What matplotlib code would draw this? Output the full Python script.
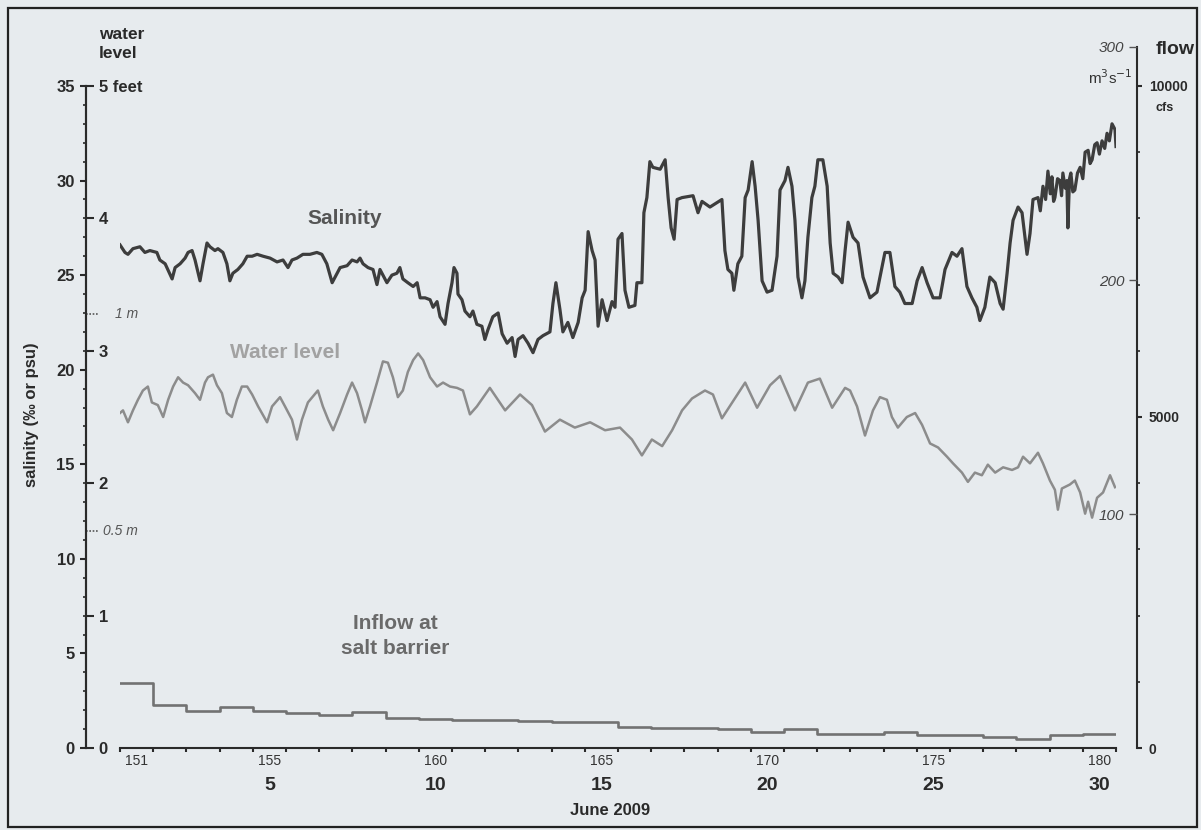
import matplotlib.pyplot as plt
from matplotlib.patches import Rectangle
from matplotlib.transforms import blended_transform_factory

plt.rcParams['font.family'] = ['Liberation Sans', 'DejaVu Sans']

## Salinity (psu): (day of year 2009, psu)
salinity_obs = [
    (151.00, 26.6), (151.15, 26.2), (151.24, 26.1), (151.39, 26.4), (151.60, 26.5), (151.75, 26.2),
    (151.90, 26.3), (152.11, 26.2), (152.20, 25.8), (152.36, 25.6), (152.57, 24.8), (152.66, 25.4),
    (152.81, 25.6), (152.96, 25.9), (153.05, 26.2), (153.17, 26.3), (153.26, 25.8), (153.41, 24.7),
    (153.50, 25.6), (153.62, 26.7), (153.71, 26.5), (153.86, 26.3), (153.95, 26.4), (154.10, 26.2),
    (154.22, 25.6), (154.31, 24.7), (154.40, 25.1), (154.55, 25.3), (154.70, 25.6), (154.83, 26.0),
    (154.98, 26.0), (155.13, 26.1), (155.31, 26.0), (155.52, 25.9), (155.73, 25.7), (155.91, 25.8),
    (156.06, 25.4), (156.18, 25.8), (156.33, 25.9), (156.51, 26.1), (156.72, 26.1), (156.93, 26.2),
    (157.08, 26.1), (157.23, 25.6), (157.39, 24.6), (157.54, 25.1), (157.63, 25.4), (157.84, 25.5),
    (157.99, 25.8), (158.14, 25.7), (158.23, 25.9), (158.32, 25.6), (158.47, 25.4), (158.62, 25.3),
    (158.74, 24.5), (158.83, 25.3), (158.92, 25.0), (159.04, 24.6), (159.19, 25.0), (159.34, 25.1),
    (159.43, 25.4), (159.52, 24.8), (159.67, 24.6), (159.83, 24.4), (159.95, 24.6), (160.04, 23.8),
    (160.19, 23.8), (160.34, 23.7), (160.43, 23.3), (160.55, 23.6), (160.64, 22.8), (160.79, 22.4),
    (160.88, 23.5), (161.00, 24.6), (161.06, 25.4), (161.15, 25.1), (161.18, 24.0), (161.30, 23.7),
    (161.39, 23.1), (161.54, 22.8), (161.63, 23.1), (161.75, 22.4), (161.90, 22.3), (161.99, 21.6),
    (162.08, 22.1), (162.23, 22.8), (162.39, 23.0), (162.51, 21.9), (162.66, 21.4), (162.81, 21.7),
    (162.90, 20.7), (162.99, 21.6), (163.14, 21.8), (163.29, 21.4), (163.44, 20.9), (163.59, 21.6),
    (163.74, 21.8), (163.95, 22.0), (164.04, 23.5), (164.13, 24.6), (164.25, 23.2), (164.34, 22.0),
    (164.49, 22.5), (164.64, 21.7), (164.80, 22.5), (164.92, 23.8), (165.01, 24.2), (165.10, 27.3),
    (165.22, 26.3), (165.31, 25.8), (165.40, 22.3), (165.52, 23.7), (165.67, 22.6), (165.82, 23.6),
    (165.91, 23.3), (166.00, 26.9), (166.12, 27.2), (166.21, 24.2), (166.33, 23.3), (166.51, 23.4),
    (166.57, 24.6), (166.72, 24.6), (166.78, 28.3), (166.87, 29.1), (166.96, 31.0), (167.05, 30.7),
    (167.27, 30.6), (167.42, 31.1), (167.51, 29.1), (167.60, 27.5), (167.69, 26.9), (167.78, 29.0),
    (167.93, 29.1), (168.26, 29.2), (168.41, 28.3), (168.53, 28.9), (168.77, 28.6), (169.13, 29.0),
    (169.22, 26.3), (169.31, 25.3), (169.43, 25.1), (169.49, 24.2), (169.61, 25.6), (169.73, 26.0),
    (169.83, 29.1), (169.92, 29.5), (170.04, 31.0), (170.13, 29.7), (170.22, 27.9), (170.34, 24.7),
    (170.49, 24.1), (170.64, 24.2), (170.79, 26.0), (170.88, 29.5), (171.03, 30.0), (171.12, 30.7),
    (171.24, 29.7), (171.33, 27.9), (171.42, 24.9), (171.54, 23.8), (171.63, 24.7), (171.72, 27.0),
    (171.84, 29.1), (171.93, 29.7), (172.02, 31.1), (172.17, 31.1), (172.30, 29.7), (172.39, 26.7),
    (172.48, 25.1), (172.63, 24.9), (172.75, 24.6), (172.84, 26.3), (172.93, 27.8), (173.08, 27.0),
    (173.23, 26.7), (173.38, 24.9), (173.59, 23.8), (173.80, 24.1), (173.95, 25.4), (174.04, 26.2),
    (174.19, 26.2), (174.34, 24.4), (174.49, 24.1), (174.64, 23.5), (174.86, 23.5), (175.01, 24.7),
    (175.16, 25.4), (175.31, 24.6), (175.49, 23.8), (175.70, 23.8), (175.85, 25.3), (176.06, 26.2),
    (176.21, 26.0), (176.36, 26.4), (176.51, 24.4), (176.66, 23.8), (176.81, 23.3), (176.90, 22.6),
    (177.05, 23.3), (177.20, 24.9), (177.36, 24.6), (177.51, 23.5), (177.60, 23.2), (177.72, 25.1),
    (177.81, 26.7), (177.90, 27.9), (178.05, 28.6), (178.17, 28.3), (178.32, 26.1), (178.41, 27.2),
    (178.50, 29.0), (178.65, 29.1), (178.72, 28.4), (178.80, 29.7), (178.88, 29.0), (178.95, 30.5),
    (179.02, 29.3), (179.07, 30.2), (179.12, 28.9), (179.16, 29.1), (179.24, 30.1), (179.31, 30.0),
    (179.36, 29.2), (179.40, 30.4), (179.47, 29.6), (179.52, 30.0), (179.55, 27.5), (179.60, 30.1),
    (179.64, 30.4), (179.70, 29.4), (179.76, 29.5), (179.84, 30.4), (179.92, 30.7), (180.00, 30.1),
    (180.07, 31.5), (180.16, 31.6), (180.22, 30.9), (180.28, 31.1), (180.36, 31.9), (180.43, 32.0),
    (180.50, 31.4), (180.58, 32.1), (180.66, 31.7), (180.73, 32.5), (180.80, 32.1), (180.88, 33.0),
    (180.97, 32.7), (181.00, 31.8),
]

## Water level (feet): (day of year, feet)
water_level_obs = [
    (151.00, 2.53), (151.09, 2.55), (151.24, 2.46), (151.39, 2.55), (151.54, 2.63), (151.69, 2.70),
    (151.84, 2.73), (151.96, 2.61), (152.14, 2.59), (152.30, 2.50), (152.45, 2.63), (152.60, 2.73),
    (152.75, 2.80), (152.90, 2.76), (153.05, 2.74), (153.26, 2.68), (153.41, 2.63), (153.56, 2.76),
    (153.65, 2.80), (153.80, 2.82), (153.92, 2.74), (154.07, 2.68), (154.22, 2.53), (154.37, 2.50),
    (154.52, 2.63), (154.67, 2.73), (154.83, 2.73), (154.98, 2.67), (155.16, 2.58), (155.43, 2.46),
    (155.58, 2.58), (155.82, 2.65), (155.97, 2.58), (156.18, 2.48), (156.33, 2.33), (156.48, 2.48),
    (156.66, 2.61), (156.96, 2.70), (157.11, 2.58), (157.27, 2.48), (157.42, 2.40), (157.63, 2.53),
    (157.84, 2.67), (157.99, 2.76), (158.14, 2.68), (158.29, 2.55), (158.38, 2.46), (158.53, 2.58),
    (158.74, 2.76), (158.92, 2.92), (159.07, 2.91), (159.22, 2.80), (159.37, 2.65), (159.52, 2.70),
    (159.67, 2.84), (159.83, 2.93), (159.98, 2.98), (160.13, 2.93), (160.34, 2.80), (160.55, 2.73),
    (160.73, 2.76), (160.94, 2.73), (161.15, 2.72), (161.33, 2.70), (161.54, 2.52), (161.75, 2.58),
    (162.14, 2.72), (162.60, 2.55), (163.05, 2.67), (163.41, 2.59), (163.80, 2.39), (164.25, 2.48),
    (164.70, 2.42), (165.16, 2.46), (165.61, 2.40), (166.06, 2.42), (166.42, 2.33), (166.72, 2.21),
    (167.02, 2.33), (167.33, 2.28), (167.63, 2.40), (167.93, 2.55), (168.23, 2.64), (168.62, 2.70),
    (168.86, 2.67), (169.13, 2.49), (169.52, 2.64), (169.83, 2.76), (170.19, 2.57), (170.58, 2.74),
    (170.88, 2.81), (171.33, 2.55), (171.72, 2.76), (172.08, 2.79), (172.45, 2.57), (172.84, 2.72),
    (172.99, 2.70), (173.20, 2.58), (173.44, 2.36), (173.68, 2.55), (173.89, 2.65), (174.10, 2.63),
    (174.25, 2.50), (174.43, 2.42), (174.70, 2.50), (174.95, 2.53), (175.16, 2.44), (175.40, 2.30),
    (175.64, 2.27), (175.91, 2.20), (176.09, 2.15), (176.36, 2.08), (176.54, 2.01), (176.75, 2.08),
    (176.96, 2.06), (177.14, 2.14), (177.36, 2.08), (177.60, 2.12), (177.87, 2.10), (178.05, 2.12),
    (178.20, 2.20), (178.41, 2.15), (178.65, 2.23), (178.80, 2.15), (179.01, 2.02), (179.16, 1.95),
    (179.25, 1.80), (179.37, 1.96), (179.61, 1.99), (179.76, 2.02), (179.92, 1.93), (180.07, 1.77),
    (180.16, 1.86), (180.28, 1.74), (180.43, 1.89), (180.61, 1.93), (180.82, 2.06), (180.97, 1.97),
]

## Daily inflow at the salt barrier (cfs), one value per day starting at flow_day
flow_day = list(range(151, 181))
flow_cfs = [980, 650, 560, 620, 560, 530, 500, 545, 450, 440,
            430, 420, 410, 400, 390, 320, 300, 300, 280, 240,
            290, 210, 210, 240, 200, 200, 165, 135, 195, 210]

day_labels = [151, 155, 160, 165, 170, 175, 180]
june_labels = ['5', '10', '15', '20', '25', '30']
sal_ticks = [0, 5, 10, 15, 20, 25, 30, 35]
ft_ticks = [0, 1, 2, 3, 4, 5]
ft_labels = ['0', '1', '2', '3', '4', '5 feet']
cfs_ticks = [0, 5000, 10000]
m3s_ticks = [100, 200, 300]

FT_PER_M = 3.28084
CFS_PER_M3S = 35.3147

## layout in pixels
W_PX, H_PX = 1201, 830
X0, X1 = 120, 1116
Y0, YT = 748, 46
PX_PER_PSU = 662 / 35.0
LEFT_OFF = (86 - X0) / (X1 - X0)
RIGHT_OFF = (1137 - X0) / (X1 - X0)
INK = '#2a2a2a'

fig = plt.figure(figsize=(W_PX / 100, H_PX / 100), dpi=100, facecolor='#e7ebee')
ax = fig.add_axes([X0 / W_PX, 1 - Y0 / H_PX, (X1 - X0) / W_PX, (Y0 - YT) / H_PX])
ax.patch.set_visible(False)
sal_top = (Y0 - YT) / PX_PER_PSU
ax.set_xlim(151, 181)
ax.set_ylim(0, sal_top)

ax_ft = ax.twinx()
ax_ft.set_ylim(0, sal_top / 7.0)           # 35 psu <-> 5 ft
ax_q = ax.twinx()
ax_q.set_ylim(0, sal_top * 10000 / 35.0)   # 35 psu <-> 10000 cfs
ax_m = ax.twinx()
ax_m.set_ylim(0, sal_top * 10000 / 35.0 / CFS_PER_M3S)

for a in (ax, ax_ft, ax_q, ax_m):
    for s in a.spines.values():
        s.set_visible(False)
        s.set_linewidth(1.5)
        s.set_color(INK)

## series
sal_d = [d for d, v in salinity_obs]
sal_v = [v for d, v in salinity_obs]
wl_d = [d for d, v in water_level_obs]
wl_v = [v for d, v in water_level_obs]
ax.plot(sal_d, sal_v, color='#3d3d3d', lw=2.3, solid_joinstyle='round', zorder=5)
ax_ft.plot(wl_d, wl_v, color='#8c8c8c', lw=1.8, solid_joinstyle='round', zorder=4)
ax_q.step(flow_day + [181], flow_cfs + [flow_cfs[-1]], where='post', color='#727272', lw=1.9)

## salinity axis (left of left spine)
ax.spines['left'].set_visible(True)
ax.spines['left'].set_position(('axes', LEFT_OFF))
ax.spines['left'].set_bounds(0, 35)
ax.set_yticks(sal_ticks)
ax.set_yticks(range(0, 36), minor=True)
ax.tick_params(axis='y', which='major', direction='out', length=4, width=1.5, color=INK,
               labelsize=12, labelcolor=INK, pad=4)
ax.tick_params(axis='y', which='minor', direction='out', length=2.5, width=1.2, color=INK)
for t in ax.get_yticklabels():
    t.set_fontweight('bold')

## feet axis (right of the same spine)
ax_ft.spines['right'].set_visible(True)
ax_ft.spines['right'].set_position(('axes', LEFT_OFF))
ax_ft.spines['right'].set_bounds(0, 5)
ax_ft.set_yticks(ft_ticks, ft_labels, fontweight='bold')
ax_ft.tick_params(axis='y', direction='out', length=6, width=1.5, color=INK,
                  labelsize=12, labelcolor=INK, pad=3)
blend = blended_transform_factory(ax.transAxes, ax_ft.transData)
for metres, txt, tx in [(1.0, '1 m', -0.005), (0.5, '0.5 m', -0.017)]:
    ax_ft.plot([LEFT_OFF, LEFT_OFF + 0.012], [metres * FT_PER_M] * 2, transform=blend,
               color='#555555', lw=1.2, ls=(0, (1, 1)), clip_on=False)
    ax_ft.text(tx, metres * FT_PER_M, txt, transform=blend, ha='left', va='center',
               fontsize=10, fontstyle='italic', color='#555555')

## flow axis (cfs right, m3/s left of right spine)
ax_q.spines['right'].set_visible(True)
ax_q.spines['right'].set_position(('axes', RIGHT_OFF))
ax_q.spines['right'].set_bounds(0, 300 * CFS_PER_M3S)
ax_q.set_yticks(cfs_ticks, [str(v) for v in cfs_ticks], fontweight='bold')
ax_q.set_yticks(range(0, 10001, 1000), minor=True)
ax_q.tick_params(axis='y', which='major', direction='out', length=3.5, width=1.5, color=INK,
                 labelsize=10, labelcolor=INK, pad=5)
ax_q.tick_params(axis='y', which='minor', direction='out', length=2, width=1.2, color=INK)

ax_m.yaxis.tick_left()
ax_m.spines['left'].set_position(('axes', RIGHT_OFF))
ax_m.set_yticks(m3s_ticks, [str(v) for v in m3s_ticks], fontstyle='italic')
ax_m.tick_params(axis='y', direction='out', length=6, width=1.0, color='#555555',
                 labelsize=11, labelcolor='#444444', pad=3)

## time axis
ax.spines['bottom'].set_visible(True)
ax.set_xticks(range(151, 182))
ax.set_xticklabels([])
ax.set_xticks([d + 0.5 for d in day_labels], [str(d) for d in day_labels], minor=True)
ax.tick_params(axis='x', which='major', direction='out', length=3, width=1.5, color=INK)
ax.tick_params(axis='x', which='minor', length=0, labelsize=10, labelcolor='#333333', pad=4)
xt = ax.get_xaxis_transform()
for d, lab in zip(day_labels[1:], june_labels):
    ax.text(d + 0.5, -0.053, lab, transform=xt, ha='center', va='center',
            fontsize=14, fontweight='bold', color=INK)

## texts
fig.text(610 / W_PX, 1 - 810 / H_PX, 'June 2009', ha='center', va='center',
         fontsize=12, fontweight='bold', color=INK)
fig.text(32 / W_PX, 1 - 415 / H_PX, 'salinity (‰ or psu)', rotation=90, ha='center',
         va='center', fontsize=12, fontweight='bold', color=INK)
fig.text(99 / W_PX, 1 - 44 / H_PX, 'water\nlevel', ha='left', va='center', fontsize=12.5,
         fontweight='bold', color=INK, linespacing=1.35)
fig.text(1175 / W_PX, 1 - 50 / H_PX, 'flow', ha='center', va='center', fontsize=14,
         fontweight='bold', color=INK)
fig.text(1165 / W_PX, 1 - 108 / H_PX, 'cfs', ha='center', va='center', fontsize=9,
         fontweight='bold', color=INK)
fig.text(1110 / W_PX, 1 - 78 / H_PX, r'm$^3$s$^{-1}$', ha='center', va='center',
         fontsize=11, color='#333333')
fig.text(345 / W_PX, 1 - 218 / H_PX, 'Salinity', ha='center', va='center', fontsize=15,
         fontweight='bold', color='#555555')
fig.text(285 / W_PX, 1 - 352 / H_PX, 'Water level', ha='center', va='center', fontsize=15,
         fontweight='bold', color='#a2a2a2')
fig.text(395 / W_PX, 1 - 636 / H_PX, 'Inflow at\nsalt barrier', ha='center', va='center',
         fontsize=15, fontweight='bold', color='#6a6a6a', linespacing=1.45)

## frame around the figure
fig.patches.append(Rectangle((8 / W_PX, 3 / H_PX), 1189 / W_PX, 819 / H_PX,
                             transform=fig.transFigure, fill=False, lw=1.6, edgecolor='#222222'))

fig.savefig('out.png', dpi=100, facecolor=fig.get_facecolor())
